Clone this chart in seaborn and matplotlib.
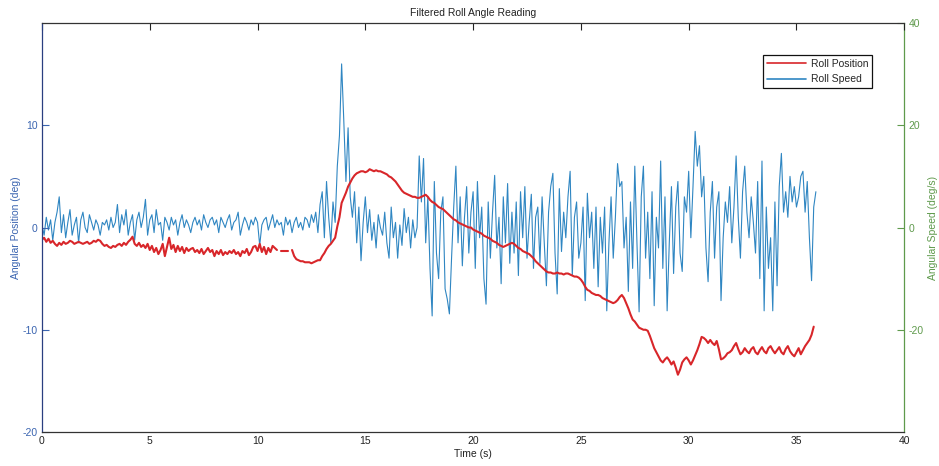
import numpy as np
import pandas as pd
import matplotlib
matplotlib.use("Agg")
import matplotlib.pyplot as plt
from matplotlib.lines import Line2D
import seaborn as sns

# ---- data -------------------------------------------------------------
# Roll speed (deg/s), sampled every 0.1 s from t = 0.0 to 35.9 s
speed_dt = 0.1
roll_speed = [
    0.5, -1.5, 2.0, -0.5, 1.5, -2.5, 1.0, 3.0, 6.0, -1.0,
    2.5, -2.0, 1.0, 3.5, -1.5, 0.5, 2.0, -3.0, 1.5, 3.0,
    0.0, -1.0, 2.5, 1.0, -0.5, 1.5, 0.5, -1.5, 1.0, 0.5,
    1.5, -0.5, 2.0, 0.0, 1.0, 4.5, -1.0, 2.5, 0.5, 3.5,
    -1.5, 1.0, 2.5, -2.5, 1.5, 3.0, 0.0, 2.0, 5.5, -1.5,
    1.5, 2.5, -1.0, 3.5, 0.5, 1.0, -2.5, 2.0, 1.0, -0.5,
    2.0, 0.5, 1.5, -1.5, 1.0, 2.5, 0.0, 1.5, 0.5, -1.0,
    1.0, 2.0, 0.5, 1.5, -0.5, 2.5, 1.0, 0.0, 1.5, 2.0,
    0.5, 1.5, -1.0, 2.0, 1.0, 0.0, 1.5, 2.5, -0.5, 1.0,
    1.5, 3.0, -1.5, 0.5, 2.0, 1.0, -0.5, 1.5, 0.5, 2.0,
    1.0, -3.5, 0.5, 1.5, 2.0, -0.5, 1.0, 2.5, 0.0, 1.5,
    0.5, 1.0, -1.5, 2.0, 0.5, 1.5, -1.0, 1.0, 2.0, 0.0,
    1.0, -0.5, 2.0, 1.5, 0.0, 2.5, 1.0, 3.0, -1.0, 4.5,
    7.0, -2.0, 9.0, 2.0, -3.0, 5.0, 1.0, 12.0, 18.0, 32.0,
    21.0, 9.0, 19.5, 6.0, 2.0, 7.0, -3.0, 4.0, -6.5, 1.0,
    6.0, -1.0, 3.5, -2.5, 1.0, -4.0, 2.5, 0.0, -1.5, 3.0,
    -3.0, -6.0, 4.0, -2.0, 1.0, -6.0, 0.5, -3.5, 3.7, -1.0,
    2.0, -4.0, 1.5, -2.0, 0.0, 14.0, 5.0, 13.5, -3.0, 6.0,
    -8.0, -17.3, 9.0, -5.0, -10.0, 3.0, 6.0, -12.0, -14.0, -16.9,
    -6.0, 4.0, 12.0, -3.0, 6.0, -7.5, 2.0, 8.0, -5.0, 3.0,
    7.0, -8.0, 9.0, -2.0, 4.0, -10.0, -15.0, 5.0, -6.0, 3.0,
    10.2, -4.0, 2.0, -11.0, 6.0, -3.0, 8.6, -7.0, 3.0, -5.0,
    5.0, -9.4, 7.0, -2.0, 8.0, -6.0, 1.0, 6.5, -8.0, 2.0,
    4.0, -7.0, 6.0, -3.0, -11.4, 3.0, 8.0, 10.6, -5.0, -13.0,
    7.6, -4.7, 3.0, -2.0, 6.0, 11.0, -9.4, 2.0, 5.0, -6.0,
    -3.0, 4.0, -14.3, 6.7, -2.0, 3.0, -8.0, 4.0, -11.6, 2.0,
    -5.0, 4.0, -16.3, -3.0, 6.0, -6.0, 2.0, 12.5, 8.0, 9.0,
    -4.0, 2.0, -12.5, 5.0, -8.0, 12.0, -3.0, -16.5, 6.0, 12.0,
    -6.0, 3.0, -10.0, 7.0, -15.3, 2.0, -4.0, 13.0, -8.0, 6.0,
    -16.3, -3.0, 8.0, -9.0, 4.0, 9.0, -5.0, -8.6, 6.0, 3.0,
    11.0, -2.0, 8.0, 18.8, 12.0, 16.0, 6.0, 10.0, -4.0, -10.6,
    3.0, 9.0, -6.0, 4.0, 7.0, -14.3, -2.0, 5.0, 1.0, 8.0,
    -3.0, 4.0, 14.0, 2.0, -6.0, 7.0, 12.0, 3.0, -2.0, 6.0,
    1.0, -5.0, 9.0, -10.0, 13.0, -16.3, 4.0, -8.0, -2.0, -16.3,
    5.0, -11.4, 8.0, 14.5, 3.0, 7.0, 2.0, 10.0, 5.0, 8.0,
    4.0, 6.0, 10.0, 11.0, 3.0, 9.0, -2.0, -10.4, 4.0, 7.0,
]

# Roll position (deg), in three recorded pieces, each sampled every 0.1 s
position_starts = [0.0, 11.1, 11.6]
position_piece_1 = [
    -1.2, -1.0, -1.4, -1.1, -1.5, -1.3, -1.6, -1.8, -1.5, -1.7,
    -1.4, -1.6, -1.5, -1.3, -1.4, -1.6, -1.5, -1.4, -1.5, -1.6,
    -1.5, -1.4, -1.6, -1.5, -1.3, -1.4, -1.2, -1.3, -1.6, -1.8,
    -1.7, -1.9, -2.0, -1.8, -1.9, -1.7, -1.6, -1.8, -1.5, -1.7,
    -1.4, -1.2, -0.9, -1.6, -1.8, -1.5, -1.9, -1.7, -2.0, -1.6,
    -2.2, -1.8, -2.4, -2.0, -2.6, -2.2, -1.6, -2.8, -1.9, -1.0,
    -2.1, -1.7, -2.4, -1.8, -2.3, -1.9, -2.5, -2.0, -2.3, -2.1,
    -2.0, -2.4, -2.2, -2.5, -2.1, -2.6, -2.3, -2.0, -2.4, -2.2,
    -2.8, -2.3, -2.6, -2.2, -2.7, -2.4, -2.6, -2.3, -2.5, -2.2,
    -2.6, -2.4, -2.8, -2.3, -2.5, -2.1, -2.7, -2.4, -1.9, -1.8,
    -2.3, -1.6, -2.4, -1.9, -2.6, -2.0, -2.4, -1.8, -2.0, -2.2,
]
position_piece_2 = [-2.3, -2.3, -2.3, -2.3]
position_piece_3 = [
    -2.2, -2.8, -3.1, -3.2,
    -3.3, -3.3, -3.4, -3.4, -3.4, -3.5, -3.4, -3.3, -3.2, -3.2,
    -2.8, -2.5, -2.1, -1.8, -1.6, -1.3, -1.0, 0.1, 1.0, 2.4,
    2.9, 3.4, 4.0, 4.4, 4.8, 5.1, 5.3, 5.4, 5.5, 5.5,
    5.4, 5.5, 5.7, 5.6, 5.5, 5.6, 5.5, 5.5, 5.4, 5.3,
    5.2, 5.0, 4.9, 4.7, 4.5, 4.2, 3.9, 3.6, 3.4, 3.3,
    3.2, 3.1, 3.0, 3.0, 2.9, 2.9, 3.0, 3.1, 3.2, 3.0,
    2.7, 2.5, 2.4, 2.2, 2.0, 1.9, 1.8, 1.6, 1.4, 1.2,
    1.0, 0.8, 0.7, 0.5, 0.4, 0.3, 0.2, 0.1, 0.0, 0.0,
    -0.2, -0.3, -0.4, -0.5, -0.6, -0.8, -0.9, -1.0, -1.1, -1.3,
    -1.4, -1.5, -1.7, -1.8, -1.9, -1.8, -1.7, -1.6, -1.5, -1.6,
    -1.8, -2.0, -2.1, -2.3, -2.4, -2.5, -2.6, -2.8, -3.0, -3.3,
    -3.5, -3.7, -3.9, -4.1, -4.3, -4.4, -4.4, -4.5, -4.5, -4.4,
    -4.5, -4.5, -4.6, -4.5, -4.5, -4.6, -4.7, -4.8, -4.8, -4.9,
    -5.1, -5.4, -5.8, -6.1, -6.2, -6.4, -6.5, -6.6, -6.6, -6.7,
    -6.9, -7.0, -7.1, -7.2, -7.3, -7.4, -7.3, -7.1, -6.8, -6.6,
    -6.9, -7.4, -7.9, -8.5, -9.0, -9.2, -9.5, -9.8, -9.9, -10.0,
    -10.0, -10.1, -10.6, -11.2, -11.8, -12.2, -12.6, -13.0, -13.2, -12.9,
    -12.7, -13.0, -13.4, -13.1, -13.7, -14.4, -13.9, -13.2, -12.9, -12.7,
    -13.0, -13.4, -13.0, -12.5, -12.0, -11.4, -10.7, -10.8, -11.0, -11.3,
    -11.0, -11.3, -11.5, -11.1, -11.9, -12.9, -12.8, -12.6, -12.3, -12.2,
    -12.0, -11.6, -11.3, -11.9, -12.4, -12.2, -11.8, -12.1, -12.3, -11.9,
    -11.7, -12.2, -12.4, -12.0, -11.7, -12.1, -12.3, -11.8, -11.6, -12.0,
    -12.3, -12.0, -11.7, -12.2, -12.4, -11.9, -11.6, -12.1, -12.4, -12.6,
    -12.2, -11.8, -12.4, -12.0, -11.6, -11.3, -11.0, -10.5, -9.7,
]

# ---- tables for seaborn ----------------------------------------------
speed_df = pd.DataFrame({
    "t": np.round(np.arange(len(roll_speed)) * speed_dt, 2),
    "speed": roll_speed,
})

pieces = [position_piece_1, position_piece_2, position_piece_3]
frames = []
for k, (t0, vals) in enumerate(zip(position_starts, pieces)):
    frames.append(pd.DataFrame({
        "t": np.round(t0 + np.arange(len(vals)) * 0.1, 2),
        "position": vals,
        "piece": k,
    }))
position_df = pd.concat(frames, ignore_index=True)

# ---- styling ----------------------------------------------------------
sns.set_theme(context="paper", style="white")
plt.rcParams["font.family"] = ["Liberation Sans", "DejaVu Sans"]
plt.rcParams["axes.unicode_minus"] = False

RED = "#d8262a"
BLUE = "#2f86c2"
LEFT_C = "#3a64b0"
RIGHT_C = "#5f9a4c"

fig = plt.figure(figsize=(9.39, 4.66), dpi=100)
ax = fig.add_axes([0.0447, 0.073, 0.9183, 0.8776])
ax2 = ax.twinx()

sns.lineplot(data=speed_df, x="t", y="speed", ax=ax2, color=BLUE,
             linewidth=0.8, legend=False)
sns.lineplot(data=position_df, x="t", y="position", units="piece",
             estimator=None, ax=ax, color=RED, linewidth=1.5, legend=False)
ax.set_zorder(ax2.get_zorder() + 1)
ax.patch.set_visible(False)

ax.set_xlim(0, 40)
ax.set_ylim(-20, 20)
ax2.set_ylim(-40, 40)
ax.set_xticks([0, 5, 10, 15, 20, 25, 30, 35, 40])
ax.set_yticks([-20, -10, 0, 10])
ax2.set_yticks([-20, 0, 20, 40])

ax.tick_params(axis="x", direction="in", top=True, length=5, width=0.8,
               labelsize=7.5, colors="#222222", pad=3)
ax.tick_params(axis="y", direction="in", right=False, length=5, width=0.8,
               labelsize=7.5, labelcolor=LEFT_C, color=LEFT_C, pad=3)
ax2.tick_params(axis="y", direction="in", length=5, width=0.8,
                labelsize=7.5, labelcolor=RIGHT_C, color=RIGHT_C, pad=3)

for s in ["top", "bottom"]:
    ax.spines[s].set_color("#333333")
    ax.spines[s].set_linewidth(0.9)
ax.spines["left"].set_color("#2a3f80")
ax.spines["left"].set_linewidth(0.9)
ax.spines["right"].set_visible(False)
for s in ["top", "bottom", "left"]:
    ax2.spines[s].set_visible(False)
ax2.spines["right"].set_color(RIGHT_C)
ax2.spines["right"].set_linewidth(0.9)

ax.set_xlabel("Time (s)", fontsize=7.5, color="#222222", labelpad=2)
ax.set_ylabel("Angular Position (deg)", fontsize=7.5, color=LEFT_C,
              labelpad=1)
ax2.set_ylabel("Angular Speed (deg/s)", fontsize=7.5, color=RIGHT_C,
               labelpad=3)
ax.set_title("Filtered Roll Angle Reading", fontsize=7.5, color="#222222",
             pad=5)

handles = [Line2D([], [], color=RED, linewidth=1.2),
           Line2D([], [], color=BLUE, linewidth=1.2)]
leg = ax.legend(handles, ["Roll Position", "Roll Speed"], loc="upper right",
                bbox_to_anchor=(0.969, 0.935), fontsize=7.5, frameon=True,
                fancybox=False, framealpha=1, edgecolor="#111111",
                handlelength=3.8, borderpad=0.4, labelspacing=0.5,
                handletextpad=0.4)
leg.get_frame().set_linewidth(0.9)

fig.savefig("out.png", dpi=100)
